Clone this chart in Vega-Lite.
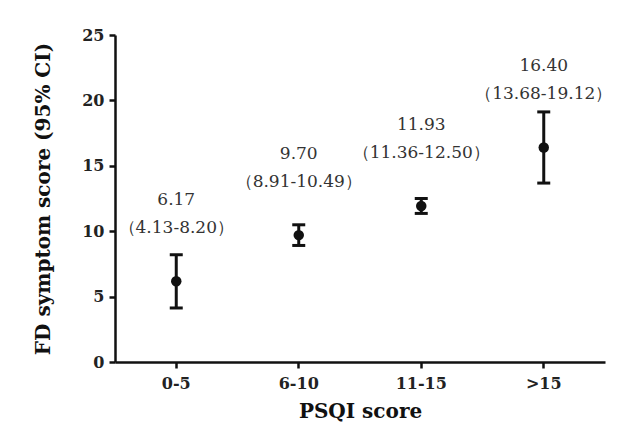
{
  "$schema": "https://vega.github.io/schema/vega-lite/v6.json",
  "width": 490,
  "height": 327,
  "autosize": "none",
  "padding": {"left": 115, "top": 35, "right": 22, "bottom": 70},
  "background": "white",
  "config": {
    "view": {"stroke": null},
    "font": "DejaVu Serif",
    "axis": {
      "grid": false,
      "domainColor": "#111",
      "domainWidth": 2.5,
      "tickColor": "#111",
      "tickWidth": 2.5,
      "tickSize": 6,
      "labelFont": "DejaVu Serif",
      "labelFontWeight": "bold",
      "labelFontSize": 16,
      "labelColor": "#222",
      "titleFont": "DejaVu Serif",
      "titleFontWeight": "bold",
      "titleFontSize": 20,
      "titleColor": "#111"
    }
  },
  "data": {
    "values": [
      {"group": "0-5", "mean": 6.17, "lower": 4.13, "upper": 8.20, "mean_label": "6.17", "ci_label": "（4.13-8.20）"},
      {"group": "6-10", "mean": 9.70, "lower": 8.91, "upper": 10.49, "mean_label": "9.70", "ci_label": "（8.91-10.49）"},
      {"group": "11-15", "mean": 11.93, "lower": 11.36, "upper": 12.50, "mean_label": "11.93", "ci_label": "（11.36-12.50）"},
      {"group": ">15", "mean": 16.40, "lower": 13.68, "upper": 19.12, "mean_label": "16.40", "ci_label": "（13.68-19.12）"}
    ]
  },
  "encoding": {
    "x": {
      "field": "group",
      "type": "nominal",
      "sort": null,
      "scale": {"paddingInner": 0, "paddingOuter": 0},
      "axis": {"title": "PSQI score", "labelAngle": 0, "labelPadding": 7, "titlePadding": 10}
    }
  },
  "layer": [
    {
      "mark": {"type": "rule", "color": "#111", "strokeWidth": 3},
      "encoding": {
        "y": {
          "field": "lower",
          "type": "quantitative",
          "scale": {"domain": [0, 25], "nice": false},
          "axis": {"title": "FD symptom score (95% CI)", "values": [0, 5, 10, 15, 20, 25], "labelPadding": 5, "titlePadding": 28}
        },
        "y2": {"field": "upper"}
      }
    },
    {
      "mark": {"type": "tick", "color": "#111", "thickness": 3, "size": 13, "opacity": 1},
      "encoding": {"y": {"field": "lower", "type": "quantitative"}}
    },
    {
      "mark": {"type": "tick", "color": "#111", "thickness": 3, "size": 13, "opacity": 1},
      "encoding": {"y": {"field": "upper", "type": "quantitative"}}
    },
    {
      "mark": {"type": "point", "filled": true, "color": "#111", "size": 110, "opacity": 1},
      "encoding": {"y": {"field": "mean", "type": "quantitative"}}
    },
    {
      "mark": {"type": "text", "font": "DejaVu Serif", "fontSize": 17, "color": "#333", "dy": -81, "baseline": "middle"},
      "encoding": {"y": {"field": "mean", "type": "quantitative"}, "text": {"field": "mean_label"}}
    },
    {
      "mark": {"type": "text", "font": "DejaVu Serif", "fontSize": 17, "color": "#333", "dy": -53, "baseline": "middle"},
      "encoding": {"y": {"field": "mean", "type": "quantitative"}, "text": {"field": "ci_label"}}
    }
  ]
}
